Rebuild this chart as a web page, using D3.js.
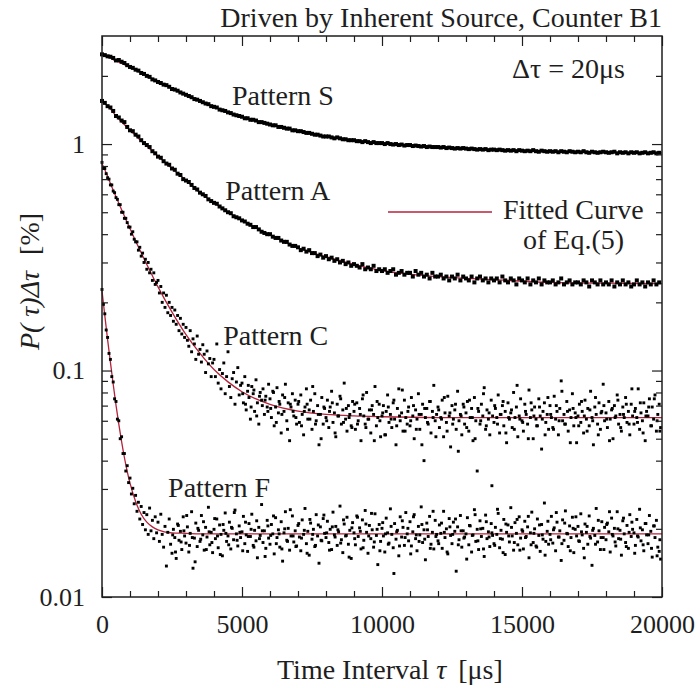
<!DOCTYPE html>
<html>
<head>
<meta charset="utf-8">
<script src="https://cdn.jsdelivr.net/npm/d3@7"></script>
<style>
  body { margin: 0; background: #fff; }
  svg text { font-family: "Liberation Serif", "Times New Roman", serif; }
</style>
</head>
<body>
<div id="chart"></div>
<script>
// sampling step of each measured series [us]
var stepSA = 100;
var stepCF = 50;

var dataS = [
  2.49, 2.47, 2.44, 2.43, 2.40, 2.34, 2.35, 2.31, 2.28, 2.23,
  2.19, 2.17, 2.13, 2.11, 2.06, 2.04, 2.00, 1.98, 1.93, 1.91,
  1.88, 1.86, 1.83, 1.82, 1.79, 1.75, 1.74, 1.72, 1.69, 1.67,
  1.65, 1.63, 1.61, 1.58, 1.57, 1.55, 1.53, 1.51, 1.50, 1.47,
  1.46, 1.45, 1.42, 1.41, 1.40, 1.38, 1.37, 1.35, 1.34, 1.33,
  1.32, 1.30, 1.30, 1.28, 1.28, 1.27, 1.25, 1.25, 1.24, 1.23,
  1.22, 1.21, 1.21, 1.19, 1.19, 1.18, 1.17, 1.17, 1.15, 1.15,
  1.14, 1.14, 1.13, 1.12, 1.12, 1.11, 1.10, 1.10, 1.09, 1.08,
  1.08, 1.08, 1.07, 1.06, 1.07, 1.06, 1.05, 1.05, 1.04, 1.04,
  1.04, 1.03, 1.03, 1.02, 1.03, 1.02, 1.01, 1.02, 1.01, 1.01,
  1.01, 1.00, 1.01, 1.00, 0.995, 1.00, 0.99, 0.995, 0.985, 0.99,
  0.99, 0.98, 0.985, 0.98, 0.975, 0.98, 0.97, 0.975, 0.97, 0.97,
  0.97, 0.965, 0.97, 0.96, 0.965, 0.96, 0.955, 0.96, 0.955, 0.96,
  0.955, 0.95, 0.955, 0.95, 0.945, 0.95, 0.945, 0.95, 0.94, 0.945,
  0.945, 0.94, 0.945, 0.94, 0.935, 0.94, 0.935, 0.94, 0.93, 0.94,
  0.935, 0.93, 0.935, 0.93, 0.94, 0.93, 0.925, 0.935, 0.93, 0.925,
  0.93, 0.925, 0.93, 0.92, 0.93, 0.925, 0.92, 0.93, 0.925, 0.92,
  0.925, 0.92, 0.93, 0.92, 0.915, 0.925, 0.92, 0.915, 0.92, 0.925,
  0.92, 0.915, 0.92, 0.925, 0.91, 0.92, 0.915, 0.92, 0.91, 0.92,
  0.915, 0.92, 0.91, 0.915, 0.92, 0.91, 0.915, 0.92, 0.91, 0.915
];

var dataA = [
  1.55, 1.52, 1.47, 1.45, 1.40, 1.33, 1.31, 1.27, 1.25, 1.19,
  1.15, 1.14, 1.10, 1.08, 1.04, 1.01, 0.99, 0.97, 0.93, 0.91,
  0.88, 0.87, 0.84, 0.82, 0.81, 0.78, 0.77, 0.74, 0.73, 0.70,
  0.69, 0.68, 0.66, 0.64, 0.63, 0.61, 0.60, 0.59, 0.57, 0.56,
  0.55, 0.545, 0.53, 0.52, 0.51, 0.50, 0.495, 0.48, 0.475, 0.47,
  0.46, 0.455, 0.445, 0.44, 0.43, 0.43, 0.42, 0.41, 0.405, 0.40,
  0.40, 0.39, 0.385, 0.385, 0.375, 0.37, 0.37, 0.36, 0.355, 0.355,
  0.35, 0.34, 0.345, 0.335, 0.34, 0.33, 0.33, 0.32, 0.325, 0.315,
  0.32, 0.31, 0.315, 0.305, 0.31, 0.30, 0.305, 0.295, 0.30, 0.29,
  0.295, 0.29, 0.285, 0.295, 0.28, 0.285, 0.28, 0.29, 0.275, 0.28,
  0.275, 0.28, 0.27, 0.275, 0.28, 0.265, 0.27, 0.275, 0.265, 0.27,
  0.27, 0.26, 0.275, 0.265, 0.27, 0.26, 0.265, 0.255, 0.27, 0.26,
  0.26, 0.265, 0.255, 0.26, 0.25, 0.26, 0.255, 0.265, 0.25, 0.26,
  0.255, 0.25, 0.26, 0.245, 0.255, 0.26, 0.25, 0.255, 0.245, 0.255,
  0.25, 0.255, 0.245, 0.26, 0.25, 0.245, 0.255, 0.25, 0.24, 0.255,
  0.25, 0.245, 0.255, 0.24, 0.25, 0.245, 0.255, 0.24, 0.25, 0.245,
  0.245, 0.25, 0.24, 0.245, 0.255, 0.24, 0.245, 0.25, 0.24, 0.245,
  0.245, 0.24, 0.25, 0.245, 0.235, 0.25, 0.245, 0.24, 0.25, 0.24,
  0.245, 0.24, 0.25, 0.235, 0.245, 0.24, 0.25, 0.24, 0.245, 0.235,
  0.24, 0.25, 0.24, 0.245, 0.235, 0.245, 0.24, 0.25, 0.24, 0.245
];

var dataC = [
  0.83, 0.78, 0.78, 0.74, 0.71, 0.70, 0.66, 0.66, 0.62, 0.61, 0.58, 0.57, 0.54, 0.54, 0.50, 0.50, 0.47, 0.47, 0.45, 0.43,
  0.43, 0.40, 0.41, 0.38, 0.37, 0.37, 0.34, 0.35, 0.32, 0.33, 0.30, 0.31, 0.28, 0.30, 0.27, 0.28, 0.25, 0.27, 0.24, 0.245,
  0.25, 0.22, 0.235, 0.20, 0.22, 0.19, 0.215, 0.18, 0.20, 0.175, 0.19, 0.165, 0.185, 0.16, 0.175, 0.15, 0.17, 0.145, 0.16, 0.14,
  0.155, 0.136, 0.128, 0.150, 0.121, 0.138, 0.131, 0.112, 0.142, 0.118, 0.124, 0.109, 0.130, 0.118, 0.098, 0.122, 0.107, 0.113, 0.094, 0.108,
  0.112, 0.094, 0.131, 0.088, 0.101, 0.083, 0.097, 0.108, 0.079, 0.094, 0.121, 0.085, 0.076, 0.092, 0.098, 0.071, 0.089, 0.103, 0.078, 0.086,
  0.088, 0.072, 0.094, 0.067, 0.081, 0.076, 0.061, 0.085, 0.079, 0.066, 0.091, 0.072, 0.058, 0.080, 0.074, 0.083, 0.064, 0.077, 0.069, 0.087,
  0.075, 0.062, 0.081, 0.057, 0.069, 0.084, 0.065, 0.071, 0.053, 0.078, 0.066, 0.087, 0.060, 0.072, 0.049, 0.069, 0.079, 0.063, 0.074, 0.058,
  0.071, 0.059, 0.078, 0.064, 0.052, 0.069, 0.083, 0.061, 0.067, 0.074, 0.055, 0.066, 0.079, 0.060, 0.070, 0.047, 0.064, 0.076, 0.058, 0.068,
  0.062, 0.074, 0.056, 0.069, 0.081, 0.059, 0.065, 0.051, 0.071, 0.063, 0.077, 0.058, 0.067, 0.088, 0.061, 0.054, 0.070, 0.064, 0.057, 0.073,
  0.066, 0.055, 0.072, 0.060, 0.068, 0.049, 0.075, 0.063, 0.058, 0.080, 0.061, 0.067, 0.053, 0.070, 0.064, 0.085, 0.057, 0.062, 0.071, 0.051,
  0.063, 0.070, 0.052, 0.066, 0.078, 0.059, 0.064, 0.056, 0.072, 0.061, 0.047, 0.068, 0.083, 0.060, 0.065, 0.054, 0.074, 0.062, 0.058, 0.069,
  0.057, 0.076, 0.063, 0.050, 0.067, 0.061, 0.079, 0.055, 0.064, 0.071, 0.040, 0.062, 0.068, 0.058, 0.073, 0.053, 0.066, 0.086, 0.060, 0.064,
  0.069, 0.056, 0.062, 0.074, 0.051, 0.065, 0.059, 0.077, 0.063, 0.046, 0.070, 0.061, 0.067, 0.055, 0.081, 0.060, 0.064, 0.052, 0.071, 0.058,
  0.065, 0.073, 0.054, 0.062, 0.068, 0.049, 0.076, 0.060, 0.036, 0.066, 0.058, 0.071, 0.063, 0.084, 0.055, 0.067, 0.061, 0.052, 0.074, 0.063,
  0.059, 0.068, 0.062, 0.078, 0.053, 0.064, 0.070, 0.057, 0.066, 0.048, 0.072, 0.061, 0.065, 0.056, 0.080, 0.062, 0.069, 0.051, 0.063, 0.075,
  0.060, 0.054, 0.071, 0.064, 0.058, 0.082, 0.062, 0.067, 0.050, 0.069, 0.061, 0.057, 0.075, 0.063, 0.045, 0.066, 0.072, 0.059, 0.064, 0.055,
  0.070, 0.062, 0.056, 0.077, 0.061, 0.066, 0.052, 0.068, 0.090, 0.060, 0.064, 0.058, 0.073, 0.054, 0.067, 0.062, 0.079, 0.057, 0.065, 0.048,
  0.063, 0.071, 0.059, 0.066, 0.053, 0.074, 0.061, 0.068, 0.057, 0.081, 0.062, 0.047, 0.069, 0.064, 0.058, 0.072, 0.055, 0.066, 0.087, 0.060,
  0.065, 0.056, 0.073, 0.061, 0.067, 0.050, 0.070, 0.063, 0.078, 0.058, 0.064, 0.054, 0.069, 0.062, 0.076, 0.059, 0.066, 0.052, 0.071, 0.063,
  0.058, 0.068, 0.062, 0.083, 0.055, 0.065, 0.060, 0.072, 0.049, 0.066, 0.063, 0.075, 0.057, 0.069, 0.061, 0.078, 0.054, 0.064, 0.071, 0.056
];

// extra C points in the tail, between the ones above (tau from 5025 us, every 100 us)
var tauC2 = 5025;
var dataC2 = [
  0.079, 0.071, 0.086, 0.069, 0.082, 0.063, 0.077, 0.070, 0.074, 0.066,
  0.068, 0.080, 0.059, 0.073, 0.064, 0.076, 0.055, 0.071, 0.066, 0.062,
  0.073, 0.057, 0.066, 0.071, 0.061, 0.085, 0.058, 0.064, 0.050, 0.069,
  0.060, 0.066, 0.072, 0.053, 0.063, 0.075, 0.059, 0.068, 0.062, 0.056,
  0.071, 0.058, 0.064, 0.078, 0.056, 0.061, 0.067, 0.049, 0.073, 0.060,
  0.065, 0.052, 0.069, 0.061, 0.074, 0.057, 0.063, 0.082, 0.054, 0.066,
  0.060, 0.070, 0.055, 0.064, 0.047, 0.068, 0.059, 0.073, 0.062, 0.051,
  0.067, 0.061, 0.076, 0.054, 0.065, 0.058, 0.071, 0.044, 0.063, 0.069,
  0.056, 0.074, 0.062, 0.050, 0.068, 0.060, 0.079, 0.057, 0.065, 0.031,
  0.070, 0.058, 0.064, 0.073, 0.053, 0.062, 0.067, 0.055, 0.086, 0.061,
  0.059, 0.066, 0.050, 0.072, 0.063, 0.057, 0.069, 0.061, 0.052, 0.076,
  0.064, 0.055, 0.070, 0.060, 0.081, 0.058, 0.066, 0.048, 0.068, 0.062,
  0.057, 0.073, 0.063, 0.054, 0.067, 0.060, 0.076, 0.052, 0.065, 0.070,
  0.061, 0.049, 0.068, 0.062, 0.074, 0.056, 0.064, 0.071, 0.058, 0.083,
  0.066, 0.059, 0.072, 0.053, 0.063, 0.069, 0.057, 0.075, 0.060, 0.054
];

var dataF = [
  0.228, 0.196, 0.178, 0.151, 0.140, 0.119, 0.112, 0.094, 0.089, 0.075, 0.073, 0.061, 0.060, 0.050, 0.051, 0.043, 0.043, 0.036, 0.038, 0.032,
  0.0335, 0.0285, 0.0302, 0.0258, 0.0281, 0.0239, 0.0262, 0.0221, 0.0251, 0.0209, 0.0236, 0.0198, 0.0231, 0.0189, 0.0247, 0.0196, 0.0218, 0.0181, 0.0226, 0.0192,
  0.0214, 0.0176, 0.0232, 0.0189, 0.0166, 0.0205, 0.0137, 0.0193, 0.0221, 0.0171, 0.0156, 0.0199, 0.0183, 0.0148, 0.0210, 0.0178, 0.0195, 0.0162, 0.0226, 0.0186,
  0.0173, 0.0204, 0.0158, 0.0191, 0.0238, 0.0134, 0.0182, 0.0212, 0.0167, 0.0197, 0.0176, 0.0229, 0.0188, 0.0161, 0.0203, 0.0184, 0.0249, 0.0170, 0.0193, 0.0157,
  0.0199, 0.0181, 0.0221, 0.0165, 0.0208, 0.0189, 0.0152, 0.0197, 0.0235, 0.0176, 0.0186, 0.0214, 0.0163, 0.0201, 0.0179, 0.0242, 0.0190, 0.0168, 0.0206, 0.0183,
  0.0194, 0.0227, 0.0172, 0.0188, 0.0159, 0.0211, 0.0185, 0.0232, 0.0169, 0.0197, 0.0177, 0.0149, 0.0203, 0.0187, 0.0256, 0.0174, 0.0196, 0.0164, 0.0218, 0.0182,
  0.0171, 0.0209, 0.0190, 0.0155, 0.0224, 0.0183, 0.0198, 0.0166, 0.0215, 0.0144, 0.0192, 0.0238, 0.0178, 0.0201, 0.0161, 0.0186, 0.0228, 0.0175, 0.0196, 0.0168,
  0.0207, 0.0184, 0.0160, 0.0219, 0.0189, 0.0246, 0.0172, 0.0195, 0.0153, 0.0212, 0.0180, 0.0199, 0.0167, 0.0231, 0.0186, 0.0141, 0.0204, 0.0177, 0.0222, 0.0191,
  0.0183, 0.0216, 0.0174, 0.0199, 0.0162, 0.0237, 0.0188, 0.0205, 0.0169, 0.0194, 0.0252, 0.0179, 0.0157, 0.0210, 0.0186, 0.0225, 0.0171, 0.0197, 0.0148, 0.0213,
  0.0192, 0.0170, 0.0228, 0.0185, 0.0202, 0.0163, 0.0219, 0.0178, 0.0241, 0.0193, 0.0156, 0.0207, 0.0181, 0.0198, 0.0166, 0.0233, 0.0187, 0.0139, 0.0209, 0.0176,
  0.0201, 0.0186, 0.0158, 0.0223, 0.0192, 0.0173, 0.0245, 0.0189, 0.0165, 0.0211, 0.0180, 0.0197, 0.0152, 0.0226, 0.0184, 0.0203, 0.0169, 0.0236, 0.0190, 0.0177,
  0.0215, 0.0168, 0.0194, 0.0231, 0.0181, 0.0160, 0.0205, 0.0188, 0.0250, 0.0174, 0.0198, 0.0146, 0.0212, 0.0185, 0.0227, 0.0171, 0.0193, 0.0163, 0.0218, 0.0189,
  0.0177, 0.0208, 0.0191, 0.0164, 0.0239, 0.0183, 0.0200, 0.0155, 0.0222, 0.0187, 0.0172, 0.0214, 0.0195, 0.0130, 0.0204, 0.0179, 0.0229, 0.0166, 0.0196, 0.0184,
  0.0190, 0.0224, 0.0170, 0.0206, 0.0158, 0.0188, 0.0243, 0.0176, 0.0199, 0.0162, 0.0217, 0.0185, 0.0201, 0.0151, 0.0230, 0.0181, 0.0194, 0.0167, 0.0211, 0.0187,
  0.0172, 0.0203, 0.0189, 0.0234, 0.0165, 0.0197, 0.0180, 0.0220, 0.0154, 0.0193, 0.0208, 0.0175, 0.0248, 0.0186, 0.0161, 0.0213, 0.0191, 0.0170, 0.0226, 0.0182,
  0.0198, 0.0163, 0.0216, 0.0185, 0.0204, 0.0149, 0.0192, 0.0237, 0.0174, 0.0200, 0.0168, 0.0221, 0.0187, 0.0159, 0.0209, 0.0180, 0.0260, 0.0176, 0.0195, 0.0171,
  0.0189, 0.0227, 0.0173, 0.0202, 0.0160, 0.0214, 0.0184, 0.0196, 0.0145, 0.0219, 0.0178, 0.0240, 0.0191, 0.0167, 0.0206, 0.0183, 0.0225, 0.0157, 0.0199, 0.0186,
  0.0205, 0.0176, 0.0233, 0.0188, 0.0164, 0.0210, 0.0193, 0.0171, 0.0228, 0.0182, 0.0138, 0.0201, 0.0187, 0.0246, 0.0175, 0.0196, 0.0162, 0.0215, 0.0183, 0.0203,
  0.0179, 0.0212, 0.0194, 0.0158, 0.0223, 0.0186, 0.0201, 0.0168, 0.0238, 0.0181, 0.0197, 0.0153, 0.0217, 0.0190, 0.0174, 0.0207, 0.0164, 0.0231, 0.0185, 0.0199,
  0.0192, 0.0169, 0.0220, 0.0184, 0.0244, 0.0177, 0.0198, 0.0160, 0.0211, 0.0188, 0.0172, 0.0229, 0.0195, 0.0150, 0.0206, 0.0183, 0.0218, 0.0166, 0.0159, 0.0147
];

// extra F points in the tail (tau from 2525 us, every 100 us)
var tauF2 = 2525;
var dataF2 = [
  0.0188, 0.0158, 0.0207, 0.0175, 0.0196, 0.0229, 0.0169, 0.0183, 0.0143, 0.0201,
  0.0180, 0.0215, 0.0162, 0.0194, 0.0174, 0.0222, 0.0186, 0.0154, 0.0209, 0.0191,
  0.0170, 0.0203, 0.0236, 0.0178, 0.0193, 0.0160, 0.0214, 0.0185, 0.0199, 0.0166,
  0.0217, 0.0181, 0.0196, 0.0151, 0.0206, 0.0187, 0.0228, 0.0172, 0.0190, 0.0163,
  0.0200, 0.0176, 0.0243, 0.0186, 0.0167, 0.0211, 0.0182, 0.0197, 0.0156, 0.0220,
  0.0189, 0.0169, 0.0208, 0.0178, 0.0230, 0.0192, 0.0161, 0.0204, 0.0184, 0.0198,
  0.0173, 0.0219, 0.0187, 0.0150, 0.0202, 0.0181, 0.0225, 0.0195, 0.0165, 0.0210,
  0.0186, 0.0234, 0.0175, 0.0199, 0.0160, 0.0213, 0.0190, 0.0171, 0.0205, 0.0127,
  0.0194, 0.0168, 0.0217, 0.0183, 0.0201, 0.0155, 0.0226, 0.0188, 0.0176, 0.0209,
  0.0180, 0.0198, 0.0164, 0.0239, 0.0185, 0.0172, 0.0212, 0.0193, 0.0158, 0.0204,
  0.0189, 0.0221, 0.0170, 0.0196, 0.0182, 0.0147, 0.0207, 0.0187, 0.0231, 0.0177,
  0.0200, 0.0163, 0.0215, 0.0184, 0.0192, 0.0169, 0.0244, 0.0181, 0.0157, 0.0210,
  0.0186, 0.0203, 0.0174, 0.0220, 0.0161, 0.0195, 0.0183, 0.0227, 0.0170, 0.0191,
  0.0166, 0.0208, 0.0188, 0.0153, 0.0216, 0.0179, 0.0198, 0.0236, 0.0184, 0.0172,
  0.0212, 0.0190, 0.0160, 0.0201, 0.0226, 0.0177, 0.0194, 0.0149, 0.0205, 0.0185,
  0.0197, 0.0171, 0.0218, 0.0183, 0.0162, 0.0209, 0.0238, 0.0189, 0.0175, 0.0200,
  0.0180, 0.0223, 0.0167, 0.0193, 0.0214, 0.0156, 0.0186, 0.0202, 0.0170, 0.0211,
  0.0188, 0.0164, 0.0206, 0.0152, 0.0179
];

// fitted curves of Eq.(5), read at these tau [us]
var tauFit = [0, 100, 200, 300, 400, 500, 600, 700, 800, 900, 1000, 1200, 1400, 1600, 1800, 2000,
              2500, 3000, 3500, 4000, 4500, 5000, 6000, 7000, 8000, 9000, 10000, 12000, 14000, 16000, 18000, 20000];
var fitS = [2.49, 2.46, 2.43, 2.40, 2.36, 2.33, 2.30, 2.27, 2.24, 2.21, 2.18, 2.12, 2.06, 2.00, 1.94, 1.88,
            1.76, 1.65, 1.55, 1.46, 1.38, 1.32, 1.22, 1.14, 1.08, 1.04, 1.01, 0.97, 0.945, 0.93, 0.92, 0.915];
var fitA = [1.55, 1.51, 1.47, 1.43, 1.38, 1.33, 1.29, 1.25, 1.22, 1.18, 1.15, 1.09, 1.03, 0.98, 0.93, 0.884,
            0.78, 0.69, 0.608, 0.551, 0.50, 0.461, 0.397, 0.348, 0.318, 0.294, 0.276, 0.26, 0.252, 0.245, 0.243, 0.242];
var fitC = [0.82, 0.77, 0.72, 0.67, 0.626, 0.585, 0.548, 0.513, 0.481, 0.451, 0.423, 0.373, 0.331, 0.294, 0.262, 0.234,
            0.181, 0.144, 0.119, 0.101, 0.0891, 0.0806, 0.0709, 0.0662, 0.064, 0.063, 0.0625, 0.062, 0.062, 0.062, 0.062, 0.062];
var fitF = [0.225, 0.175, 0.137, 0.109, 0.087, 0.0703, 0.058, 0.0485, 0.0413, 0.0359, 0.0318, 0.0264, 0.0232, 0.0214, 0.0204, 0.0198,
            0.0192, 0.0191, 0.019, 0.019, 0.019, 0.019, 0.019, 0.019, 0.019, 0.019, 0.019, 0.019, 0.019, 0.019, 0.019, 0.019];

// axis ticks
var xMajor = [0, 5000, 10000, 15000, 20000];
var xMinor = [1000, 2000, 3000, 4000, 6000, 7000, 8000, 9000, 11000, 12000, 13000, 14000, 16000, 17000, 18000, 19000];
var yMajor = [0.01, 0.1, 1];
var yMajorLabels = ["0.01", "0.1", "1"];
var yMinor = [0.02, 0.03, 0.04, 0.05, 0.06, 0.07, 0.08, 0.09, 0.2, 0.3, 0.4, 0.5, 0.6, 0.7, 0.8, 0.9, 2];

var labels = [
  {text: "Pattern S", tau: 4640, v: 1.49},
  {text: "Pattern A", tau: 4400, v: 0.565},
  {text: "Pattern C", tau: 4330, v: 0.129},
  {text: "Pattern F", tau: 2360, v: 0.0277}
];

var red = "#b5233b";
var ink = "#1e1e1e";

var margin = {top: 36, right: 38, bottom: 91, left: 102},
    width = 700 - margin.left - margin.right,
    height = 688 - margin.top - margin.bottom;

var svg = d3.select("#chart")
    .append("svg")
        .attr("width", 700)
        .attr("height", 688)
    .append("g")
        .attr("transform", "translate(" + margin.left + "," + margin.top + ")");

var x = d3.scaleLinear().domain([0, 20000]).range([0, width]);
var y = d3.scaleLog().domain([0.01, 3]).range([height, 0]);

// fitted curves go under the dots
var line = d3.line()
    .x(function(d) { return x(d[0]); })
    .y(function(d) { return y(d[1]); })
    .curve(d3.curveMonotoneX);

[fitS, fitA, fitC, fitF].forEach(function(f) {
    svg.append("path")
        .datum(tauFit.map(function(t, i) { return [t, f[i]]; }))
        .attr("d", line)
        .attr("fill", "none")
        .attr("stroke", red)
        .attr("stroke-width", 1.3);
});

// measured points
function drawDots(vals, t0, step, sz) {
    svg.append("g").selectAll("rect")
        .data(vals)
        .enter()
        .append("rect")
            .attr("x", function(d, i) { return x(t0 + i * step) - sz / 2; })
            .attr("y", function(d) { return y(d) - sz / 2; })
            .attr("width", sz)
            .attr("height", sz)
            .attr("fill", "#000");
}
drawDots(dataS, 0, stepSA, 4);
drawDots(dataA, 0, stepSA, 4);
drawDots(dataC, 0, stepCF, 2.9);
drawDots(dataC2, tauC2, 2 * stepCF, 2.9);
drawDots(dataF, 0, stepCF, 2.9);
drawDots(dataF2, tauF2, 2 * stepCF, 2.9);

// axes: ticks point inward on all four sides
function styleAxis(g) {
    g.select(".domain").remove();
    g.attr("font-family", null);
    g.selectAll(".tick line").attr("stroke", ink).attr("stroke-width", 1.2);
    g.selectAll("text").style("font-size", "26px").attr("fill", ink);
}

svg.append("g").attr("transform", "translate(0," + height + ")")
    .call(d3.axisBottom(x).tickValues(xMajor).tickSize(-10).tickPadding(18).tickFormat(d3.format("d")))
    .call(styleAxis);
svg.append("g").attr("transform", "translate(0," + height + ")")
    .call(d3.axisBottom(x).tickValues(xMinor).tickSize(-6).tickFormat(""))
    .call(styleAxis);
svg.append("g")
    .call(d3.axisTop(x).tickValues(xMajor).tickSize(-10).tickFormat(""))
    .call(styleAxis);
svg.append("g")
    .call(d3.axisTop(x).tickValues(xMinor).tickSize(-6).tickFormat(""))
    .call(styleAxis);

svg.append("g")
    .call(d3.axisLeft(y).tickValues(yMajor).tickSize(-10).tickPadding(17)
        .tickFormat(function(d, i) { return yMajorLabels[i]; }))
    .call(styleAxis);
svg.append("g")
    .call(d3.axisLeft(y).tickValues(yMinor).tickSize(-6).tickFormat(""))
    .call(styleAxis);
svg.append("g").attr("transform", "translate(" + width + ",0)")
    .call(d3.axisRight(y).tickValues(yMajor).tickSize(-10).tickFormat(""))
    .call(styleAxis);
svg.append("g").attr("transform", "translate(" + width + ",0)")
    .call(d3.axisRight(y).tickValues(yMinor).tickSize(-6).tickFormat(""))
    .call(styleAxis);

// frame
svg.append("rect")
    .attr("width", width)
    .attr("height", height)
    .attr("fill", "none")
    .attr("stroke", ink)
    .attr("stroke-width", 1.5);

// pattern labels
svg.selectAll(".plabel")
    .data(labels)
    .enter()
    .append("text")
        .attr("class", "plabel")
        .attr("x", function(d) { return x(d.tau); })
        .attr("y", function(d) { return y(d.v); })
        .style("font-size", "28px")
        .attr("fill", ink)
        .text(function(d) { return d.text; });

// title and annotation
svg.append("text")
    .attr("x", width)
    .attr("y", -9)
    .attr("text-anchor", "end")
    .style("font-size", "28px")
    .attr("fill", ink)
    .text("Driven by Inherent Source, Counter B1");

svg.append("text")
    .attr("x", width - 37)
    .attr("y", 42)
    .attr("text-anchor", "end")
    .style("font-size", "28px")
    .attr("fill", ink)
    .text("\u0394\u03c4 = 20\u03bcs");

// legend
svg.append("line")
    .attr("x1", 286).attr("x2", 390)
    .attr("y1", 176).attr("y2", 176)
    .attr("stroke", red)
    .attr("stroke-width", 1.5);
svg.append("text")
    .attr("x", 401).attr("y", 183)
    .style("font-size", "28px")
    .attr("fill", ink)
    .text("Fitted Curve");
svg.append("text")
    .attr("x", 421).attr("y", 213)
    .style("font-size", "28px")
    .attr("fill", ink)
    .text("of Eq.(5)");

// axis titles
var xt = svg.append("text")
    .attr("x", 175)
    .attr("y", height + 82)
    .style("font-size", "28px")
    .attr("fill", ink);
xt.append("tspan").text("Time Interval ");
xt.append("tspan").style("font-style", "italic").text("\u03c4");
xt.append("tspan").attr("dx", 12).text("[\u03bcs]");

var yt = svg.append("text")
    .attr("transform", "translate(-63," + (height / 2 - 35) + ") rotate(-90)")
    .attr("text-anchor", "middle")
    .style("font-size", "28px")
    .attr("fill", ink);
yt.append("tspan").style("font-style", "italic").text("P( \u03c4)\u0394\u03c4");
yt.append("tspan").attr("dx", 16).text("[%]");
</script>
</body>
</html>
